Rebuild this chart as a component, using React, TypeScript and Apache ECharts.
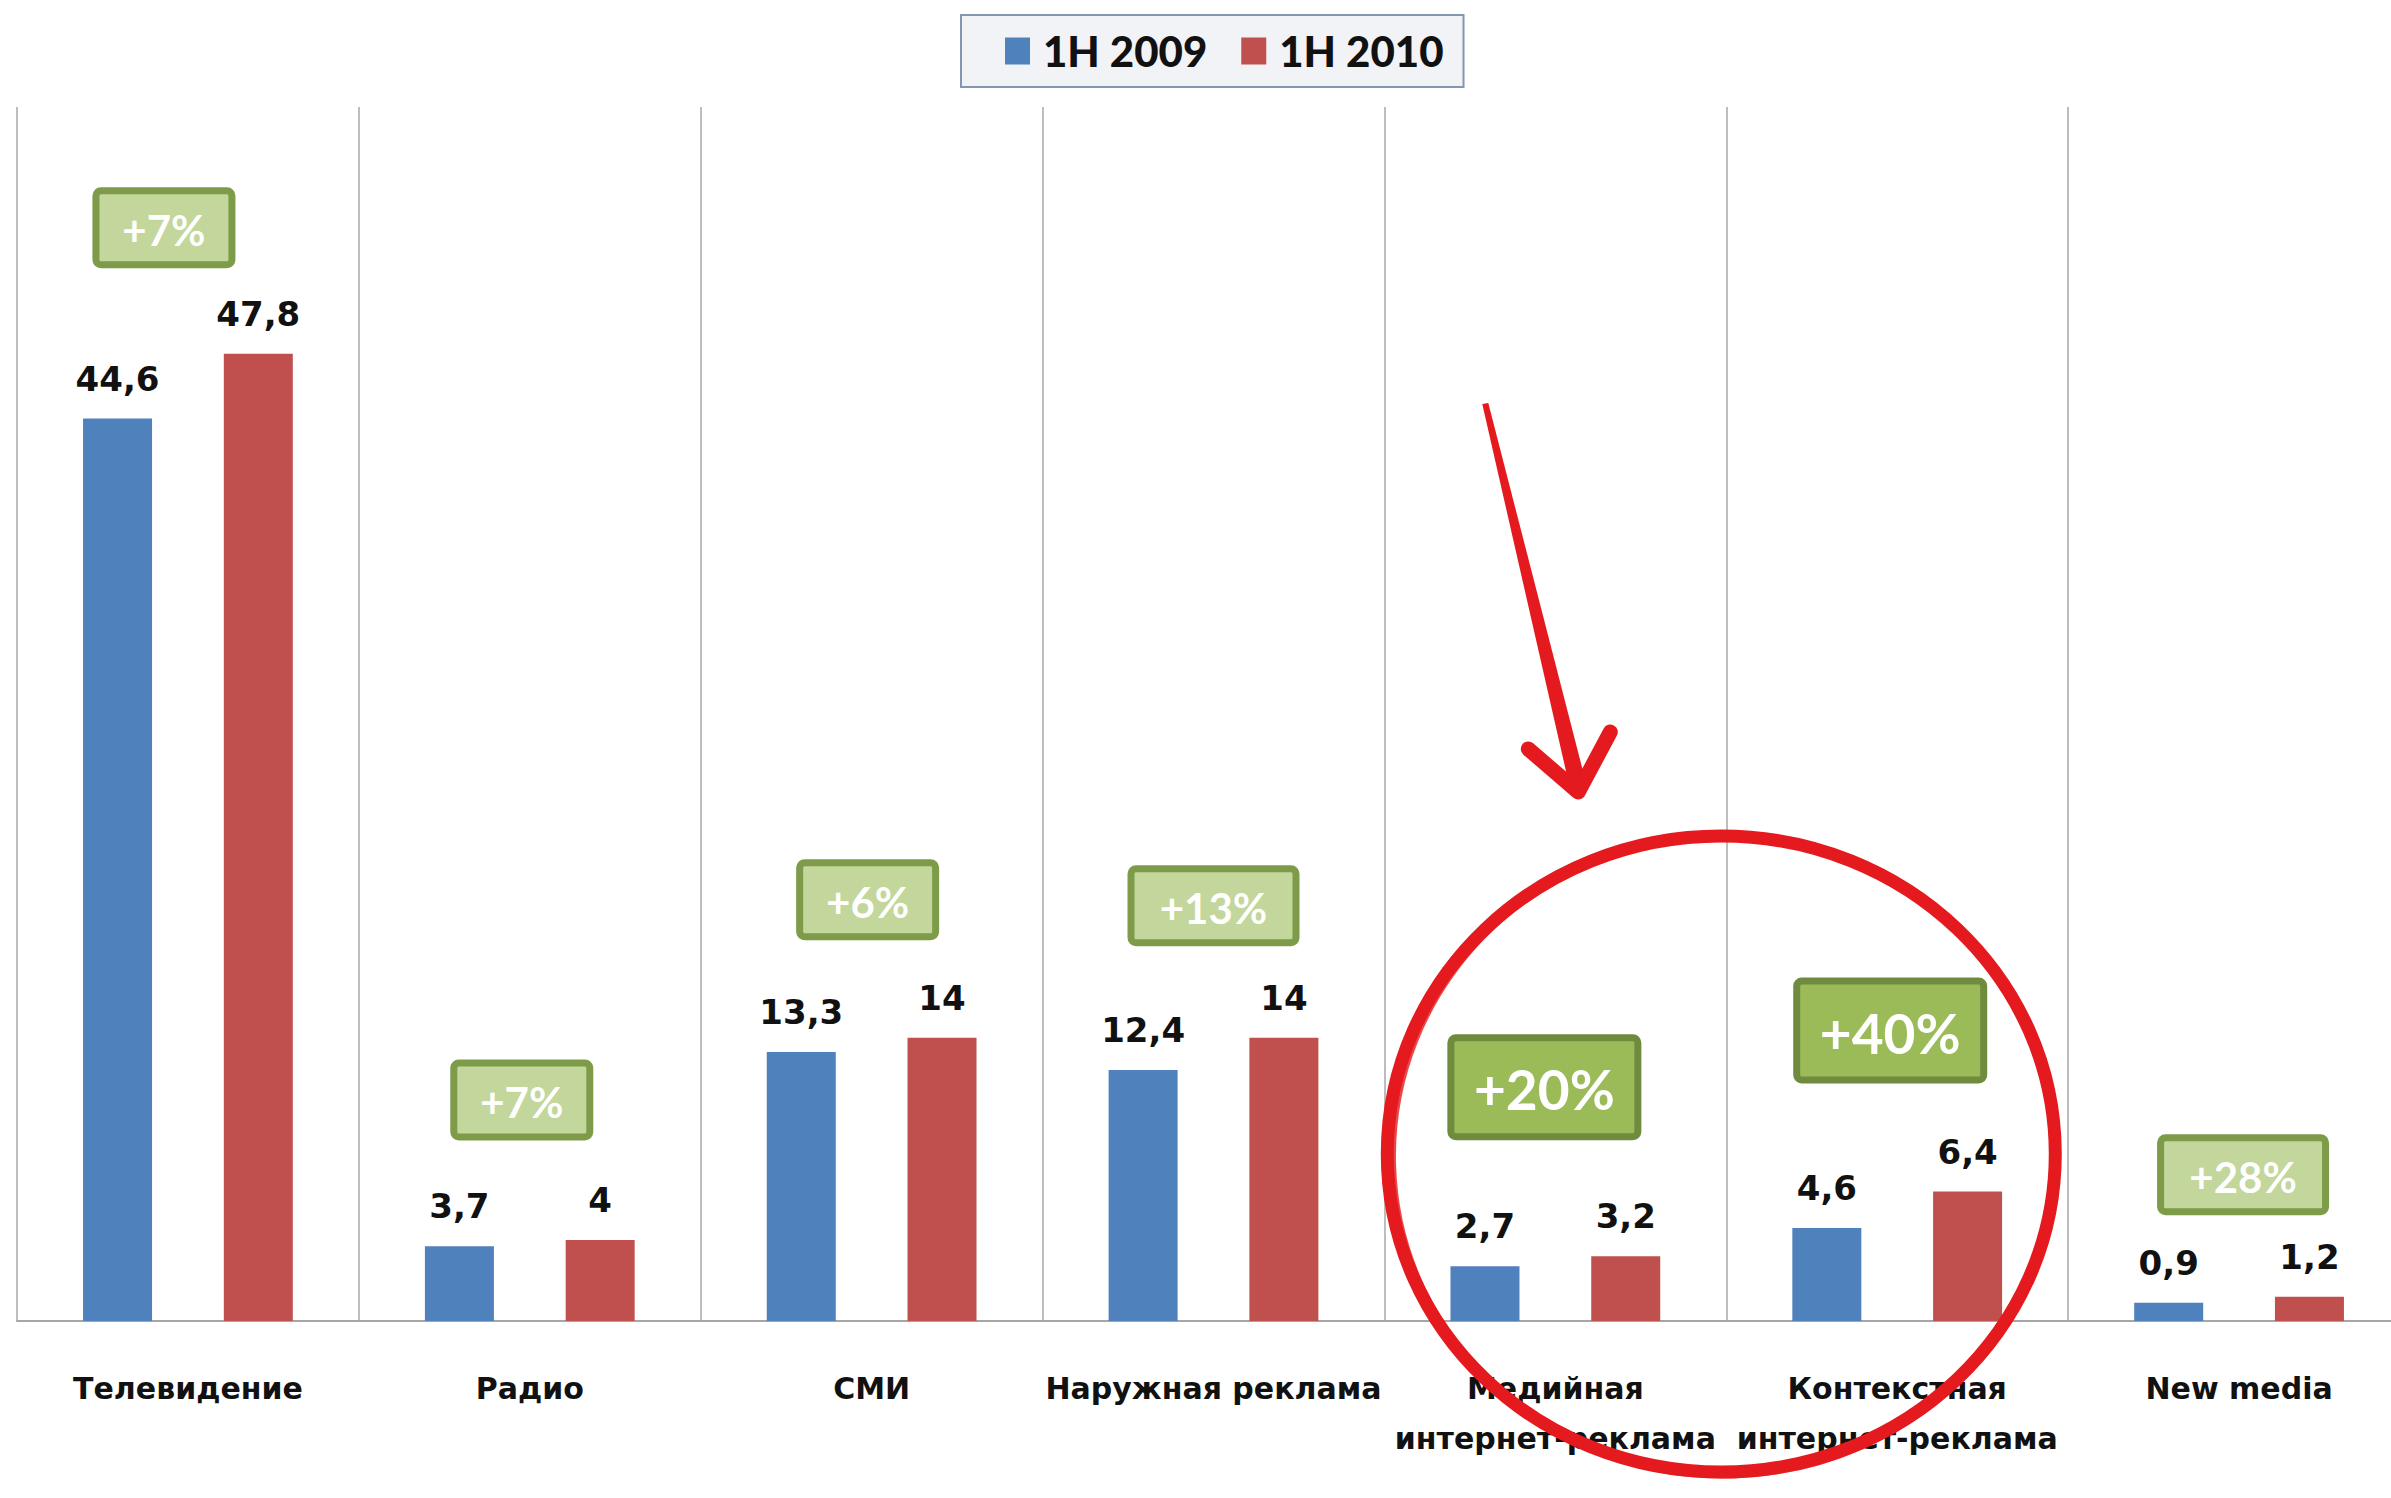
import React, { useEffect, useRef } from "react";
import * as echarts from "echarts";

// ---- data ----
const categories = [
  "Телевидение",
  "Радио",
  "СМИ",
  "Наружная реклама",
  "Медийная\nинтернет-реклама",
  "Контекстная\nинтернет-реклама",
  "New media",
];
const seriesNames = ["1H 2009", "1H 2010"];
const h1_2009 = [44.6, 3.7, 13.3, 12.4, 2.7, 4.6, 0.9];
const h1_2010 = [47.8, 4, 14, 14, 3.2, 6.4, 1.2];
const growthLabels = ["+7%", "+7%", "+6%", "+13%", "+20%", "+40%", "+28%"];
const highlighted = [false, false, false, false, true, true, false];

// ---- annotation layout (pixels relative to each category) ----
const badgeOffsetX = [-24, -8, -4, 0, -11, -7, 4];
const badgeLift = [126, 140, 138, 132, 169, 161, 122];

const BLUE = "#4F81BD";
const RED = "#C0504D";
const MARK = "#E41A1F";

const fmt = (p: any) => String(p.value).replace(".", ",");

export default function App() {
  const ref = useRef<HTMLDivElement>(null);

  useEffect(() => {
    if (!ref.current) return;
    const chart = echarts.init(ref.current, null, { renderer: "svg" });
    const labelStyle = {
      show: true,
      position: "top",
      distance: 23,
      formatter: fmt,
      fontFamily: "DejaVu Sans",
      fontWeight: "bold",
      fontSize: 34,
      color: "#111111",
    };
    const option: any = {
      animation: false,
      backgroundColor: "#ffffff",
      legend: {
        data: seriesNames,
        left: 961,
        top: 15,
        padding: [15, 20, 15, 44],
        itemWidth: 25,
        itemHeight: 27,
        itemGap: 34,
        icon: "rect",
        backgroundColor: "#F2F3F6",
        borderColor: "#8497B0",
        borderWidth: 2,
        textStyle: {
          fontFamily: "Lato",
          fontWeight: 900,
          fontSize: 42,
          color: "#111111",
          padding: [0, 0, 0, 8],
        },
      },
      grid: { left: 17, width: 2393, top: 107, bottom: 177, outerBoundsMode: "none", containLabel: false },
      xAxis: {
        type: "category",
        data: categories,
        axisTick: { show: false },
        axisLine: { lineStyle: { color: "#A6A6A6", width: 2 } },
        splitLine: { show: true, lineStyle: { color: "#BDBDBD", width: 2 } },
        axisLabel: {
          interval: 0,
          hideOverlap: false,
          margin: 42,
          fontFamily: "DejaVu Sans",
          fontWeight: "bold",
          fontSize: 30,
          lineHeight: 50,
          color: "#111111",
        },
      },
      yAxis: { type: "value", min: 0, max: 60, show: false },
      series: [
        {
          name: seriesNames[0],
          type: "bar",
          data: h1_2009,
          barWidth: 69,
          barGap: "104%",
          itemStyle: { color: BLUE },
          label: labelStyle,
        },
        {
          name: seriesNames[1],
          type: "bar",
          data: h1_2010,
          barWidth: 69,
          barGap: "104%",
          itemStyle: { color: RED },
          label: labelStyle,
        },
      ],
    };
    chart.setOption(option);

    const graphics: any[] = [];
    categories.forEach((_, i) => {
      const top = Math.max(h1_2009[i], h1_2010[i]);
      const p = chart.convertToPixel({ gridIndex: 0 } as any, [i, top]) as number[];
      const cx = p[0] + badgeOffsetX[i];
      const cy = p[1] - badgeLift[i];
      const big = highlighted[i];
      const w = big ? 194 : growthLabels[i].length === 3 ? 143 : 172;
      const h = big ? 106 : 81;
      const lw = 7;
      graphics.push({
        type: "rect",
        z: 50,
        shape: { x: cx - w / 2 + lw / 2, y: cy - h / 2 + lw / 2, width: w - lw, height: h - lw, r: 5 },
        style: {
          fill: big ? "#9BBB59" : "#C3D69B",
          stroke: big ? "#6F8B3E" : "#7E9B4A",
          lineWidth: lw,
        },
      });
      graphics.push({
        type: "text",
        z: 51,
        x: cx,
        y: cy + 2,
        style: {
          text: growthLabels[i],
          fill: "#FFFFFF",
          fontFamily: "Lato",
          fontWeight: "bold",
          fontSize: big ? 55 : 42,
          align: "center",
          verticalAlign: "middle",
        },
      });
    });

    // hand-drawn emphasis: circle around the two internet categories + arrow
    const c4 = chart.convertToPixel({ gridIndex: 0 } as any, [4, 0]) as number[];
    const c5 = chart.convertToPixel({ gridIndex: 0 } as any, [5, 0]) as number[];
    const ecx = (c4[0] + c5[0]) / 2 - 5;
    const ecy = c4[1] - 167;
    graphics.push({
      type: "ellipse",
      z: 100,
      shape: { cx: ecx, cy: ecy, rx: 334, ry: 318 },
      style: { fill: "rgba(0,0,0,0)", stroke: MARK, lineWidth: 13 },
    });
    graphics.push({
      type: "ellipse",
      z: 100,
      rotation: 0.03,
      originX: ecx,
      originY: ecy,
      shape: { cx: ecx + 2, cy: ecy + 1, rx: 331, ry: 320 },
      style: { fill: "rgba(0,0,0,0)", stroke: MARK, lineWidth: 6, opacity: 0.8 },
    });
    const ax = ecx - 236;
    const ay = ecy - 750;
    graphics.push({
      type: "polygon",
      z: 100,
      shape: {
        points: [
          [ax - 3, ay],
          [ax + 3, ay - 1],
          [ax + 101, ay + 380],
          [ax + 85, ay + 386],
        ],
      },
      style: { fill: MARK },
    });
    graphics.push({
      type: "polyline",
      z: 100,
      shape: {
        points: [
          [ax + 43, ay + 345],
          [ax + 93, ay + 388],
          [ax + 125, ay + 328],
        ],
      },
      style: { stroke: MARK, lineWidth: 15, lineCap: "round", lineJoin: "round", fill: null },
    });

    chart.setOption({ graphic: graphics });

    return () => chart.dispose();
  }, []);

  return (
    <div
      ref={ref}
      style={{
        position: "fixed",
        left: 0,
        top: 0,
        width: 2391,
        height: 1498,
        overflow: "hidden",
        background: "#fff",
      }}
    />
  );
}
